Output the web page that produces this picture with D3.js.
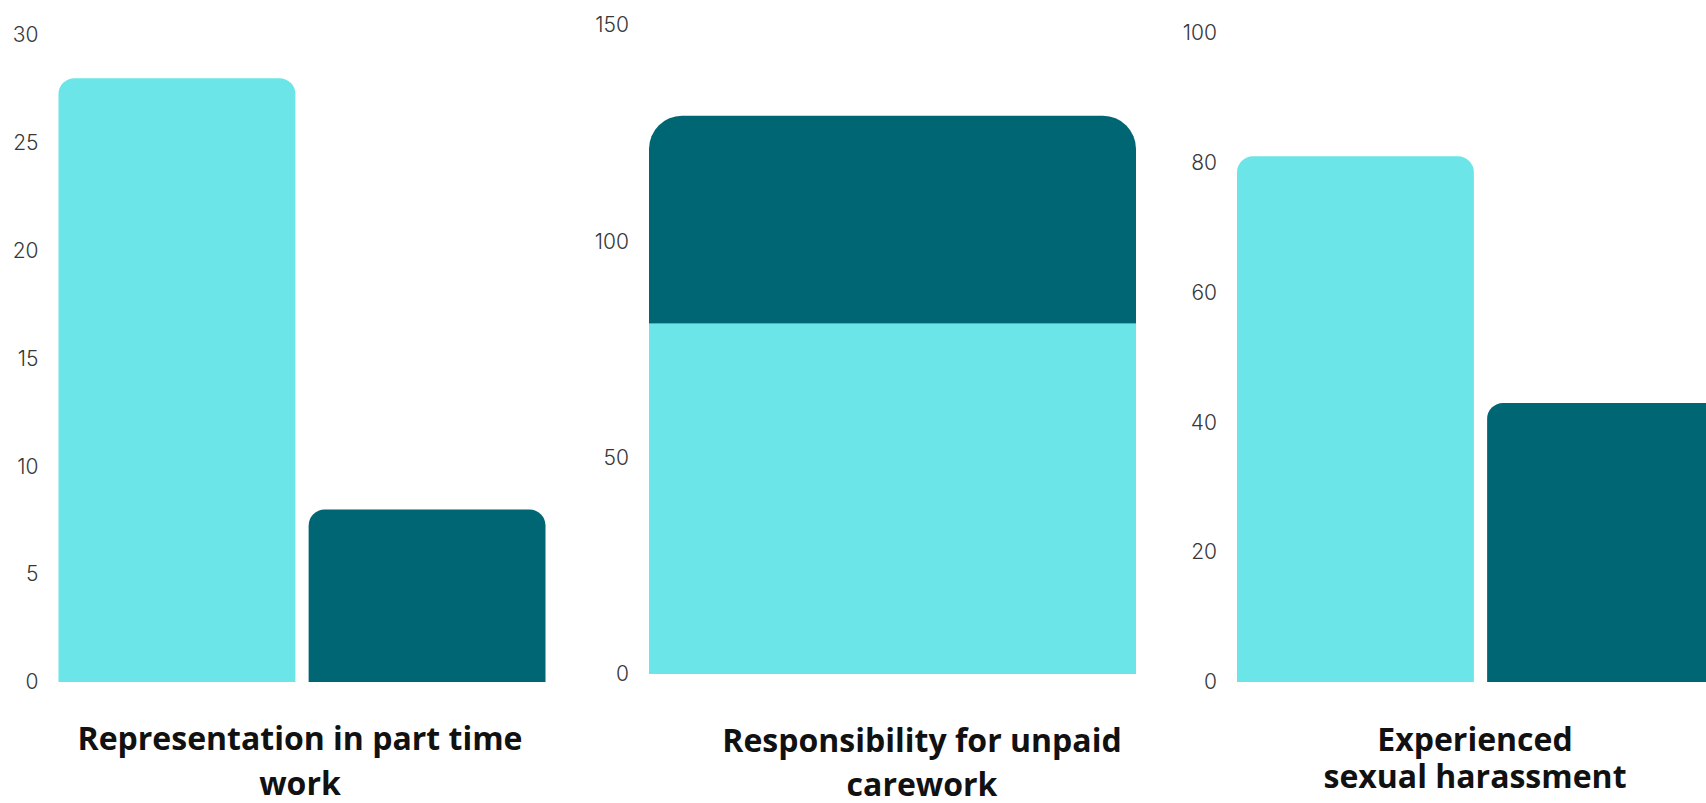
<!DOCTYPE html>
<html>
<head>
<meta charset="utf-8">
<script src="https://cdn.jsdelivr.net/npm/d3@7"></script>
<style>
  html, body { margin: 0; padding: 0; background: #ffffff; overflow: hidden; }
  svg { display: block; }
  .tick text { font-family: Inter, "Noto Sans", sans-serif; font-weight: 300; font-size: 21px; fill: #383838; }
  .title { font-family: "Open Sans", "Noto Sans", sans-serif; font-weight: 700; font-size: 32px; fill: #111111;
           font-variant-ligatures: none; }
</style>
</head>
<body>
<svg id="chart" width="1706" height="803"></svg>
<script>
// Two series per topic: light bars and dark bars
const seriesNames = ["Women", "Men"];
const seriesColors = ["#6ce5e8", "#006673"];

// Topics, one small chart each
const categories = [
  "Representation in part time work",
  "Responsibility for unpaid carework",
  "Experienced sexual harassment"
];

// Values per topic (same order as seriesNames)
const partTimeValues = [28, 8];
const careworkValues = [81, 48];      // drawn as one stacked bar
const harassmentValues = [81, 43];

// Axis tick labels per topic
const partTimeTicks = [0, 5, 10, 15, 20, 25, 30];
const careworkTicks = [0, 50, 100, 150];
const harassmentTicks = [0, 20, 40, 60, 80, 100];

// Title lines as broken under each chart
const partTimeTitle = ["Representation in part time", "work"];
const careworkTitle = ["Responsibility for unpaid", "carework"];
const harassmentTitle = ["Experienced", "sexual harassment"];

const svg = d3.select("#chart");

// Path for a bar whose two top corners are rounded
function roundedTopBar(x, y, w, h, r) {
  r = Math.max(0, Math.min(r, h, w / 2));
  return `M${x},${y + h}V${y + r}A${r},${r} 0 0 1 ${x + r},${y}` +
         `H${x + w - r}A${r},${r} 0 0 1 ${x + w},${y + r}V${y + h}Z`;
}

function drawAxis(g, y, x0, ticks) {
  const axis = d3.axisLeft(y).tickValues(ticks).tickSize(0).tickPadding(20)
    .tickFormat(d3.format("d"));
  const a = g.append("g").attr("transform", `translate(${x0},0)`).call(axis);
  a.select(".domain").remove();
  a.selectAll(".tick text").attr("font-family", null).attr("font-size", null).attr("fill", null);
}

function drawTitle(g, cx, lines, firstBaseline, lineGap) {
  const t = g.append("text").attr("class", "title").attr("text-anchor", "middle");
  lines.forEach((line, i) => {
    t.append("tspan").attr("x", cx).attr("y", firstBaseline + i * lineGap).text(line);
  });
}

// Grouped bars (side by side)
function groupedPanel(cfg) {
  const g = svg.append("g");
  const y = d3.scaleLinear().domain(cfg.domain).range([cfg.y0, cfg.y1]);
  const x = d3.scaleBand().domain(seriesNames).range([cfg.x0, cfg.x1])
    .paddingInner(0.053).paddingOuter(0);
  drawAxis(g, y, cfg.x0, cfg.ticks);
  g.selectAll("path.bar").data(cfg.values).join("path")
    .attr("class", "bar")
    .attr("fill", (d, i) => seriesColors[i])
    .attr("d", (d, i) => roundedTopBar(x(seriesNames[i]), y(d), x.bandwidth(), y(0) - y(d), cfg.radius));
  drawTitle(g, cfg.titleX, cfg.title, cfg.titleY, cfg.titleGap);
}

// One stacked bar
function stackedPanel(cfg) {
  const g = svg.append("g");
  const y = d3.scaleLinear().domain(cfg.domain).range([cfg.y0, cfg.y1]);
  const x = d3.scaleBand().domain([cfg.category]).range([cfg.x0, cfg.x1]).padding(0);
  drawAxis(g, y, cfg.x0, cfg.ticks);
  const row = {};
  seriesNames.forEach((s, i) => row[s] = cfg.values[i]);
  const stacked = d3.stack().keys(seriesNames)([row]);
  const last = stacked.length - 1;
  g.selectAll("path.bar").data(stacked).join("path")
    .attr("class", "bar")
    .attr("fill", (d, i) => seriesColors[i])
    .attr("d", (layer, i) => {
      const [lo, hi] = layer[0];
      const top = y(hi), h = y(lo) - y(hi);
      return roundedTopBar(x(cfg.category), top, x.bandwidth(), h, i === last ? cfg.radius : 0);
    });
  drawTitle(g, cfg.titleX, cfg.title, cfg.titleY, cfg.titleGap);
}

groupedPanel({
  domain: [0, 30], y0: 682, y1: 35, x0: 58.5, x1: 545.5,
  ticks: partTimeTicks, values: partTimeValues, radius: 16,
  title: partTimeTitle, titleX: 300, titleY: 750, titleGap: 45
});

stackedPanel({
  category: categories[1],
  domain: [0, 150], y0: 674, y1: 25, x0: 649, x1: 1136,
  ticks: careworkTicks, values: careworkValues, radius: 33,
  title: careworkTitle, titleX: 922, titleY: 752, titleGap: 44
});

groupedPanel({
  domain: [0, 100], y0: 682, y1: 33, x0: 1237, x1: 1724,
  ticks: harassmentTicks, values: harassmentValues, radius: 16,
  title: harassmentTitle, titleX: 1475, titleY: 751, titleGap: 37
});
</script>
</body>
</html>
